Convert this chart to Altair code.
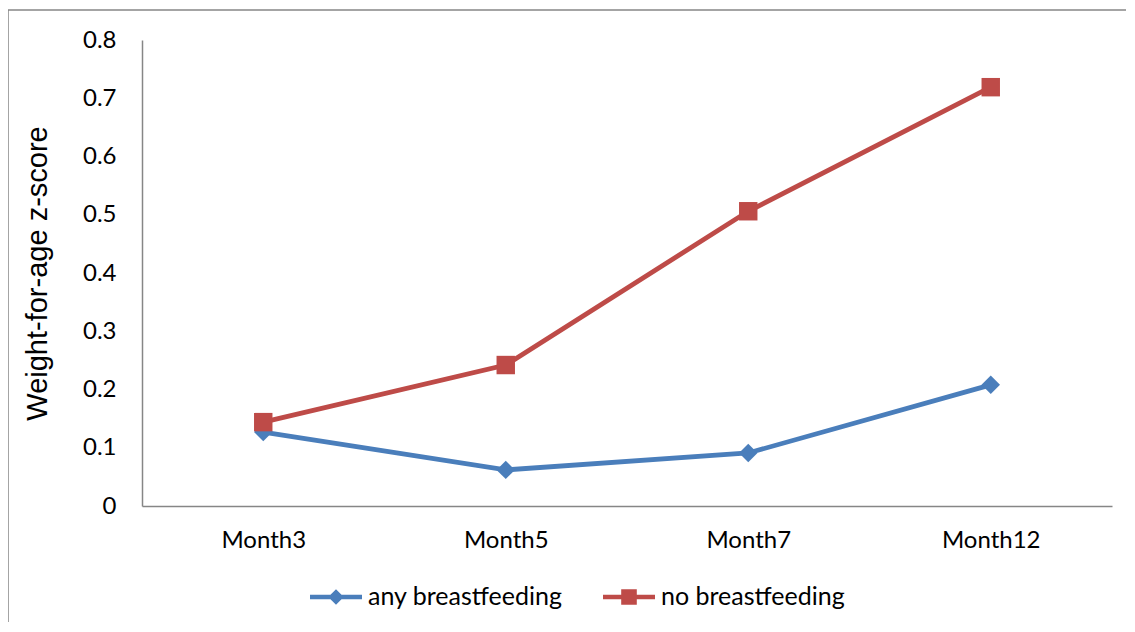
import altair as alt
import pandas as pd

months = ["Month3", "Month5", "Month7", "Month12"]
any_bf = [0.127, 0.062, 0.091, 0.208]
no_bf = [0.144, 0.242, 0.506, 0.719]
series_names = ["any breastfeeding", "no breastfeeding"]
colors = ["#4A7EBB", "#BE4B48"]

rows = []
for m, v in zip(months, any_bf):
    rows.append({"Month": m, "Series": series_names[0], "Legend": series_names[0], "Value": v, "Ord": 0})
for m, v in zip(months, no_bf):
    rows.append({"Month": m, "Series": series_names[1], "Legend": series_names[1], "Value": v, "Ord": 1})
df = pd.DataFrame(rows)

W, H = 970, 466

x_enc = alt.X("Month:N", sort=months,
              scale=alt.Scale(type="point", padding=0.5),
              axis=alt.Axis(title=None, labelAngle=0, ticks=False, grid=False,
                            domainColor="#868686", domainWidth=1.5,
                            labelFont="Lato", labelFontSize=24, labelColor="#000000",
                            labelPadding=22))
y_enc = alt.Y("Value:Q",
              scale=alt.Scale(domain=[0, 0.8], nice=False),
              axis=alt.Axis(title="Weight-for-age z-score", values=[0, 0.1, 0.2, 0.3, 0.4, 0.5, 0.6, 0.7, 0.8],
                            format=".1~f", ticks=False, grid=False,
                            domainColor="#868686", domainWidth=1.5,
                            labelFont="Lato", labelFontSize=24, labelColor="#000000",
                            labelPadding=26,
                            titleFont="Liberation Sans", titleFontSize=29, titleFontWeight="normal",
                            titleColor="#000000", titlePadding=30))

color_scale = alt.Scale(domain=series_names, range=colors)

lines = alt.Chart(df).mark_line(strokeWidth=4.8).encode(
    x=x_enc, y=y_enc,
    color=alt.Color("Series:N", scale=color_scale, legend=None),
    order="Ord:Q",
)

points = alt.Chart(df).mark_point(filled=True, opacity=1, size=340, strokeWidth=1).encode(
    x=x_enc, y=y_enc,
    color=alt.Color("Series:N", scale=color_scale, legend=None),
    shape=alt.Shape("Series:N", scale=alt.Scale(domain=series_names, range=["diamond", "square"]), legend=None),
    order="Ord:Q",
)

diamond_path = "M-1,-0.085H1V0.085H-1Z M0,-0.3L0.3,0L0,0.3L-0.3,0Z"
square_path = "M-1,-0.085H1V0.085H-1Z M-0.3,-0.3H0.3V0.3H-0.3Z"

leg = alt.Legend(title=None, orient="none", legendX=168, legendY=531,
                 direction="horizontal", symbolOpacity=1,
                 symbolStrokeWidth=0, labelFont="Lato", labelFontSize=25,
                 labelColor="#000000", labelOffset=6, columnPadding=40,
                 labelLimit=0, padding=0, symbolSize=2704)

legend_layer = alt.Chart(df).mark_point(filled=True, opacity=0, size=2704).encode(
    x=x_enc, y=y_enc,
    color=alt.Color("Legend:N", scale=color_scale, legend=leg),
    shape=alt.Shape("Legend:N",
                    scale=alt.Scale(domain=series_names, range=[diamond_path, square_path]),
                    legend=leg),
)

frame = alt.Chart(pd.DataFrame({"a": [0]})).mark_rect(
    fill="#ffffff", fillOpacity=0, stroke="#868686", strokeWidth=1.5
).encode(
    x=alt.value(-134), x2=alt.value(W + 200),
    y=alt.value(-30), y2=alt.value(H + 300),
)

chart = alt.layer(frame, lines, points, legend_layer).resolve_scale(
    shape="independent", color="independent"
).properties(
    width=W, height=H,
    autosize=alt.AutoSizeParams(type="none"),
    padding={"left": 134, "top": 32, "right": 14, "bottom": 116},
    background="#ffffff",
).configure_view(stroke="#ffffff", strokeOpacity=0, strokeWidth=0)

chart.save("out.html", embed_options={"renderer": "svg", "actions": False})
